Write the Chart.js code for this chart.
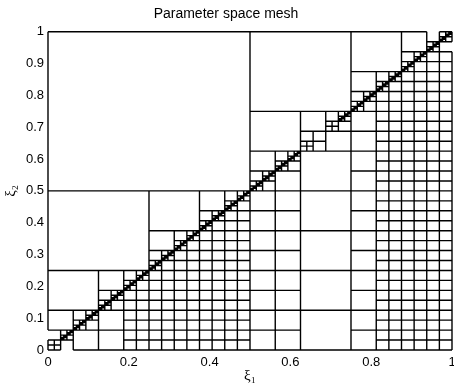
<!DOCTYPE html>
<html>
<head>
<meta charset="utf-8">
<script src="https://cdn.jsdelivr.net/npm/chart.js@4"></script>
<style>
  html, body { margin: 0; padding: 0; background: #fff; }
</style>
</head>
<body>
<canvas id="meshChart" width="454" height="385"></canvas>
<script>
const chartTitle = 'Parameter space mesh';
const xLabel = 'ξ₁';
const yLabel = 'ξ₂';
const xTickValues = [0, 0.2, 0.4, 0.6, 0.8, 1];
const yTickValues = [0, 0.1, 0.2, 0.3, 0.4, 0.5, 0.6, 0.7, 0.8, 0.9, 1];

// off-diagonal blocks of the mesh: [x0, x1, y0, y1, cells in x, cells in y]
const meshBlocks = [
    [0, 0.5, 0.5, 1, 1, 1],
    [0.5, 0.625, 0, 0.5, 2, 8],
    [0.625, 0.75, 0, 0.5, 1, 4],
    [0.75, 0.8125, 0, 0.75, 1, 12],
    [0.8125, 1, 0, 0.75, 6, 24],
    [0.5, 0.75, 0.75, 1, 1, 1],
    [0.75, 0.875, 0.875, 1, 1, 1],
    [0.875, 1, 0.75, 0.875, 4, 4],
    [0.75, 0.8125, 0.8125, 0.875, 1, 1],
    [0.8125, 0.875, 0.75, 0.8125, 2, 2],
    [0.875, 0.9375, 0.9375, 1, 1, 1],
    [0.9375, 1, 0.875, 0.9375, 2, 2],
    [0.5, 0.625, 0.625, 0.75, 1, 1],
    [0.625, 0.75, 0.5, 0.625, 1, 1],
    [0.5, 0.5625, 0.5625, 0.625, 1, 1],
    [0.5625, 0.625, 0.5, 0.5625, 1, 1],
    [0.625, 0.6875, 0.6875, 0.75, 1, 1],
    [0.6875, 0.75, 0.625, 0.6875, 1, 1],
    [0, 0.25, 0.25, 0.5, 1, 1],
    [0.25, 0.5, 0, 0.25, 8, 8],
    [0.25, 0.375, 0.375, 0.5, 1, 1],
    [0.375, 0.5, 0.25, 0.375, 4, 4],
    [0.375, 0.4375, 0.4375, 0.5, 1, 1],
    [0.4375, 0.5, 0.375, 0.4375, 2, 2],
    [0.25, 0.3125, 0.3125, 0.375, 1, 1],
    [0.3125, 0.375, 0.25, 0.3125, 2, 2],
    [0, 0.125, 0.125, 0.25, 1, 1],
    [0.125, 0.1875, 0, 0.125, 1, 2],
    [0.1875, 0.25, 0, 0.1875, 2, 6],
    [0.125, 0.1875, 0.1875, 0.25, 1, 1],
    [0, 0.0625, 0.0625, 0.125, 1, 1],
    [0.0625, 0.125, 0, 0.0625, 1, 1]
];

// the 32 squares of side 1/32 on the diagonal, and how many times each is split
const diagSize = 1 / 32;
const diagDepth = [1, 3, 3, 3, 3, 3, 3, 3, 3, 3, 3, 3, 3, 3, 3, 3,
                   3, 3, 3, 3, 1, 0, 1, 3, 3, 3, 3, 3, 3, 3, 3, 3];

const meshPoints = [];

function addSegment(x0, y0, x1, y1) {
    meshPoints.push({ x: x0, y: y0 }, { x: x1, y: y1 }, { x: null, y: null });
}

function addBlock(block) {
    const [x0, x1, y0, y1, nx, ny] = block;
    for (let i = 0; i <= nx; i++) {
        const x = x0 + (x1 - x0) * i / nx;
        addSegment(x, y0, x, y1);
    }
    for (let j = 0; j <= ny; j++) {
        const y = y0 + (y1 - y0) * j / ny;
        addSegment(x0, y, x1, y);
    }
}

function addDiagonalSquare(a, size, depth) {
    const n = depth > 0 ? 2 : 1;
    addBlock([a, a + size, a, a + size, n, n]);
    if (depth > 0) {
        addDiagonalSquare(a, size / 2, depth - 1);
        addDiagonalSquare(a + size / 2, size / 2, depth - 1);
    }
}

meshBlocks.forEach(addBlock);
diagDepth.forEach((depth, i) => addDiagonalSquare(i * diagSize, diagSize, depth));

const tickFont = { family: "'Liberation Sans', Arial, sans-serif", size: 13 };
const labelFont = { family: "'Liberation Serif', 'DejaVu Serif', serif", size: 15 };

new Chart(document.getElementById('meshChart'), {
    type: 'scatter',
    data: {
        datasets: [{
            data: meshPoints,
            showLine: true,
            spanGaps: false,
            borderColor: '#000',
            borderWidth: 1.4,
            pointRadius: 0,
            pointHoverRadius: 0,
            clip: false
        }]
    },
    options: {
        responsive: false,
        animation: false,
        events: [],
        layout: { padding: { left: 0, right: 2, top: 0, bottom: 0 } },
        plugins: {
            legend: { display: false },
            tooltip: { enabled: false },
            title: {
                display: true,
                text: chartTitle,
                color: '#000',
                font: { family: "'Liberation Sans', Arial, sans-serif", size: 14, weight: 'normal' },
                padding: { top: 6, bottom: 9 }
            }
        },
        scales: {
            x: {
                type: 'linear',
                min: 0,
                max: 1,
                grid: { display: false, drawTicks: false },
                border: { display: false },
                ticks: {
                    color: '#000',
                    font: tickFont,
                    padding: 5,
                    maxRotation: 0,
                    autoSkip: false,
                    callback: v => String(v)
                },
                afterBuildTicks: scale => { scale.ticks = xTickValues.map(v => ({ value: v })); },
                afterFit: scale => {
                    scale.height = 35;
                    scale.paddingLeft = 0;
                    scale.paddingRight = 0;
                },
                title: {
                    display: true,
                    text: xLabel,
                    color: '#000',
                    font: labelFont,
                    padding: { top: 0, bottom: 0 }
                }
            },
            y: {
                type: 'linear',
                min: 0,
                max: 1,
                grid: { display: false, drawTicks: false },
                border: { display: false },
                ticks: {
                    color: '#000',
                    font: tickFont,
                    padding: 4,
                    autoSkip: false,
                    callback: v => String(v)
                },
                afterBuildTicks: scale => { scale.ticks = yTickValues.map(v => ({ value: v })); },
                afterFit: scale => {
                    scale.width = 48;
                    scale.paddingTop = 0;
                    scale.paddingBottom = 0;
                },
                title: {
                    display: true,
                    text: yLabel,
                    color: '#000',
                    font: labelFont,
                    padding: { top: 2, bottom: 0 }
                }
            }
        }
    }
});
</script>
</body>
</html>
